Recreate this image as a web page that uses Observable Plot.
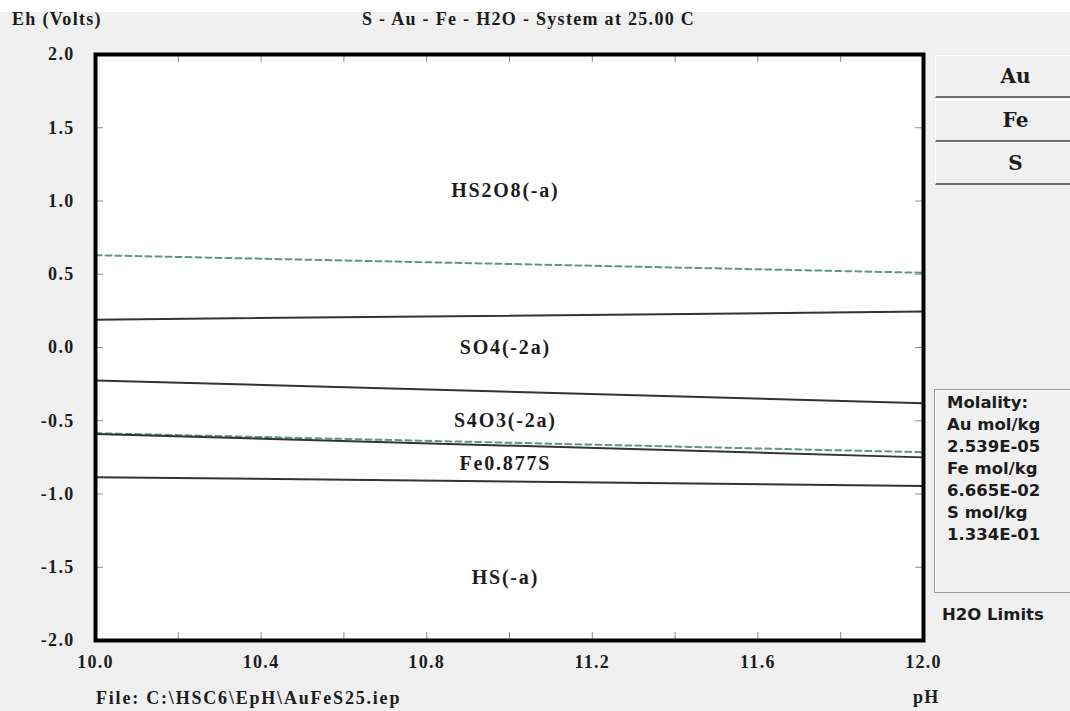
<!DOCTYPE html>
<html>
<head>
<meta charset="utf-8">
<script src="https://cdn.jsdelivr.net/npm/d3@7"></script>
<script src="https://cdn.jsdelivr.net/npm/@observablehq/plot@0.6"></script>
<style>
  html, body { margin: 0; padding: 0; }
  #page {
    position: relative; width: 1070px; height: 711px; overflow: hidden;
    background: linear-gradient(#ffffff 0 12px, #f0f0f0 12px);
  }
  #page svg { position: absolute; left: 0; top: 0; }
  #page svg text { font-family: "Liberation Serif", serif; }
  .lbl {
    position: absolute; white-space: pre; color: #1c1c1c;
    font-family: "Liberation Serif", serif; font-weight: bold;
    font-size: 18px; line-height: 20px; letter-spacing: 1.3px;
  }
  .btn {
    position: absolute; left: 935px; width: 160px; box-sizing: border-box;
    border-top: 1px solid #ffffff; border-left: 1px solid #ffffff;
    border-bottom: 2px solid #6e6e6e;
    font-family: "DejaVu Serif", serif; font-weight: bold; font-size: 20px;
    color: #1c1c1c; text-align: center;
  }
  #molality {
    position: absolute; left: 934px; top: 389px; width: 160px; height: 204px;
    box-sizing: border-box; border: 1px solid #9a9a9a;
    box-shadow: inset 1px 1px 0 #ffffff;
  }
  .sans {
    position: absolute; white-space: pre; color: #1c1c1c;
    font-family: "DejaVu Sans", sans-serif; font-weight: bold;
    font-size: 16.5px; line-height: 22px;
  }
</style>
</head>
<body>
<div id="page"></div>
<script>
// Eh–pH diagram, S–Au–Fe–H2O at 25 °C (pH 10–12)

// axis ticks
const phTicks = [10.0, 10.2, 10.4, 10.6, 10.8, 11.0, 11.2, 11.4, 11.6, 11.8, 12.0];
const phLabels = [10.0, 10.4, 10.8, 11.2, 11.6, 12.0];
const ehTicks = [2.0, 1.5, 1.0, 0.5, 0.0, -0.5, -1.0, -1.5, -2.0];

// boundary lines: Eh at pH 10 and pH 12
const linePH = [10.0, 12.0];
const ehHS2O8toSO4 = [0.19, 0.245];
const ehSO4toS4O3 = [-0.225, -0.38];
const ehS4O3toFeS = [-0.59, -0.75];
const ehFeStoHS = [-0.885, -0.945];
// water stability limits
const ehH2OUpper = [0.63, 0.51];
const ehH2OLower = [-0.585, -0.715];

// predominance-field labels
const fieldNames = ["HS2O8(-a)", "SO4(-2a)", "S4O3(-2a)", "Fe0.877S", "HS(-a)"];
const fieldPH = [10.99, 10.99, 10.99, 10.99, 10.99];
const fieldEh = [1.07, 0.0, -0.5, -0.79, -1.57];

// side panel text
const elements = ["Au", "Fe", "S"];
const molality = ["Molality:", "Au mol/kg", "2.539E-05", "Fe mol/kg", "6.665E-02", "S mol/kg", "1.334E-01"];

const toRows = (name, eh) => linePH.map((p, i) => ({name, pH: p, eh: eh[i]}));
const solidRows = [
  ...toRows("HS2O8/SO4", ehHS2O8toSO4),
  ...toRows("SO4/S4O3", ehSO4toS4O3),
  ...toRows("S4O3/Fe0.877S", ehS4O3toFeS),
  ...toRows("Fe0.877S/HS", ehFeStoHS)
];
const waterRows = [
  ...toRows("upper", ehH2OUpper),
  ...toRows("lower", ehH2OLower)
];
const fields = fieldNames.map((n, i) => ({name: n, pH: fieldPH[i], eh: fieldEh[i]}));

const W = 1070, H = 711;
const mL = 95, mR = 147, mT = 54, mB = 71;
const innerW = W - mL - mR, innerH = H - mT - mB;
const tickLen = 8;
const fmt = d => d.toFixed(1);
const serif = "'Liberation Serif', serif";
const textFont = {fontFamily: serif, fontSize: 18, fontWeight: "bold", fill: "#1c1c1c"};

const chart = Plot.plot({
  width: W, height: H,
  marginLeft: mL, marginRight: mR, marginTop: mT, marginBottom: mB,
  style: {background: "transparent", fontFamily: serif, letterSpacing: "1.3px"},
  x: {domain: [10, 12]},
  y: {domain: [-2, 2]},
  marks: [
    Plot.frame({fill: "white"}),
    // inner tick marks on all four sides
    Plot.tickY(ehTicks, {y: d => d, insetRight: innerW - tickLen, stroke: "#8a8a8a"}),
    Plot.tickY(ehTicks, {y: d => d, insetLeft: innerW - tickLen, stroke: "#8a8a8a"}),
    Plot.tickX(phTicks, {x: d => d, insetTop: innerH - tickLen, stroke: "#8a8a8a"}),
    Plot.tickX(phTicks, {x: d => d, insetBottom: innerH - tickLen, stroke: "#8a8a8a"}),
    Plot.line(waterRows, {x: "pH", y: "eh", z: "name", stroke: "#5f968a", strokeWidth: 2, strokeDasharray: "6,4"}),
    Plot.line(solidRows, {x: "pH", y: "eh", z: "name", stroke: "#333333", strokeWidth: 2}),
    Plot.text(fields, {x: "pH", y: "eh", text: "name", ...textFont, fontSize: 20}),
    Plot.axisX(phLabels, {tickSize: 0, tickPadding: 15, tickFormat: fmt, label: null, ...textFont}),
    Plot.axisY(ehTicks, {tickSize: 0, tickPadding: 21, tickFormat: fmt, label: null, ...textFont}),
    Plot.frame({stroke: "black", strokeWidth: 4})
  ]
});

// wider tracking on the field labels
chart.querySelectorAll("g[aria-label='text'] text").forEach(t => t.style.letterSpacing = "1.8px");

const page = document.getElementById("page");
page.appendChild(chart);

function addDiv(cls, text, css) {
  const d = document.createElement("div");
  d.className = cls;
  d.textContent = text;
  Object.assign(d.style, css);
  page.appendChild(d);
  return d;
}

addDiv("lbl", "Eh (Volts)", {left: "12px", top: "9px"});
addDiv("lbl", "S - Au - Fe - H2O - System at 25.00 C", {left: "362px", top: "9px"});
addDiv("lbl", "File: C:\\HSC6\\EpH\\AuFeS25.iep", {left: "96px", top: "688px", letterSpacing: "1.8px"});
addDiv("lbl", "pH", {left: "913px", top: "687px"});

// element buttons
elements.forEach((el, i) => {
  addDiv("btn", el, {top: (55 + i * 43.5) + "px", height: "43px", lineHeight: "41px"});
});

// molality box
const box = document.createElement("div");
box.id = "molality";
page.appendChild(box);
molality.forEach((t, i) => addDiv("sans", t, {left: "947px", top: (392 + i * 22) + "px"}));
addDiv("sans", "H2O Limits", {left: "942px", top: "604px"});
</script>
</body>
</html>
